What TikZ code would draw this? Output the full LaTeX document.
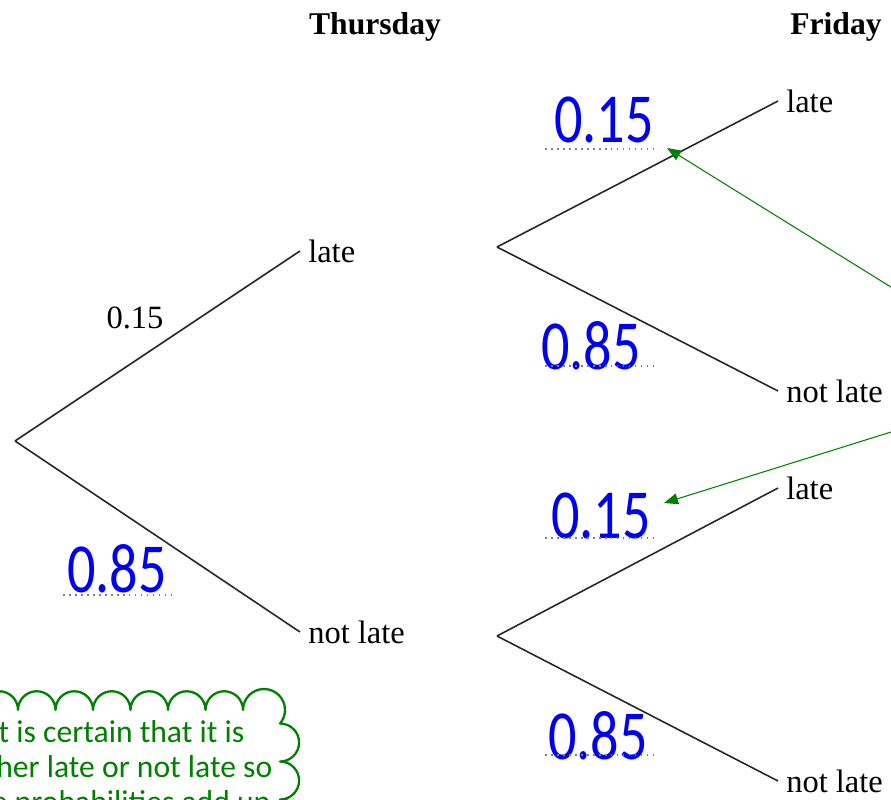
\documentclass[tikz,border=0pt]{standalone}
\usepackage{fontspec}
\setmainfont{Liberation Serif}
\newfontfamily\handfont{Carlito}
\newfontfamily\notefont{Carlito}
\usepackage{tikz}
\usetikzlibrary{
    arrows.meta,
    positioning
}
\definecolor{notegreen}{RGB}{0,128,0}
\definecolor{inkblue}{RGB}{0,0,245}
\tikzset{
    branch/.style={line width=0.9pt, black!85},
    outcome/.style={anchor=west, inner sep=4.5pt, font=\fontsize{18.5}{21}\selectfont},
    daytitle/.style={font=\fontsize{18}{21}\selectfont\bfseries},
    given/.style={font=\fontsize{18.5}{21}\selectfont},
    written/.style={text=inkblue, xscale=0.8, transform shape,
        font=\handfont\fontsize{40}{40}\selectfont},
    answerline/.style={gray, line width=1pt, dash pattern=on 1pt off 2.4pt},
    pointer/.style={-{Triangle[length=2.8mm, width=2.2mm]}, notegreen, line width=0.6pt},
    cloudline/.style={notegreen, line width=1.3pt, line join=round},
    note/.style={text=notegreen, align=center, inner sep=0pt,
        font=\notefont\fontsize{18}{20}\selectfont}
}

\begin{document}
\begin{tikzpicture}
    \useasboundingbox (0,0) rectangle (17.82,-15.98);
    % headings
    \node[daytitle] (thu) at (7.5,-0.54) {Thursday};
    \node[daytitle] (fri) at (16.72,-0.54) {Friday};
    % Thursday branches
    \coordinate (root) at (0.30,-8.82);
    \node[outcome] (late1) at (6.0,-5.02) {late};
    \node[outcome] (notlate1) at (6.0,-12.64) {not late};
    \draw[branch] (root) -- (late1.west);
    \draw[branch] (root) -- (notlate1.west);
    \node[given] (p1) at (2.7,-6.36) {0.15};
    % Friday branches
    \coordinate (split1) at (9.94,-4.94);
    \coordinate (split2) at (9.94,-12.72);
    \node[outcome] (late2) at (15.56,-2.02) {late};
    \node[outcome] (notlate2) at (15.56,-7.82) {not late};
    \node[outcome] (late3) at (15.56,-9.76) {late};
    \node[outcome] (notlate3) at (15.56,-15.62) {not late};
    \draw[branch] (split1) -- (late2.west);
    \draw[branch] (split1) -- (notlate2.west);
    \draw[branch] (split2) -- (late3.west);
    \draw[branch] (split2) -- (notlate3.west);
    % answers written in
    \foreach \name/\x/\y/\val in {a/2.34/-11.38/0.85,
                                  b/12.08/-2.40/0.15,
                                  c/11.82/-6.92/0.85,
                                  d/12.02/-10.32/0.15,
                                  e/11.96/-14.72/0.85}{
        \node[written] (ans\name) at (\x,\y) {\val};
    }
    \foreach \a/\b/\y in {1.26/3.44/-11.9, 10.9/13.06/-2.98, 10.9/13.06/-7.32,
                          10.9/13.06/-10.76, 10.9/13.06/-15.10}{
        \draw[answerline] (\a,\y) -- (\b,\y);
    }
    % pointers from the note on the right
    \coordinate (from1) at (18.3,-6.04);
    \coordinate (to1) at (13.34,-2.96);
    \coordinate (from2) at (18.3,-8.49);
    \coordinate (to2) at (13.28,-10.06);
    \draw[pointer] (from1) -- (to1);
    \draw[pointer] (from2) -- (to2);
    % thought cloud
    \draw[cloudline] (-0.39,-14.2)
        \foreach \k in {1,...,7}{ arc[start angle=180, end angle=0, radius=0.375] }
        arc[start angle=180, end angle=-40, radius=0.42]
        \foreach \k in {1,...,3}{ arc[start angle=90, end angle=-90, radius=0.38] };
    \node[note, anchor=north] (cloudtext) at (2.35,-14.40)
        {It is certain that it is\\either late or not late so\\the probabilities add up};
\end{tikzpicture}
\end{document}
